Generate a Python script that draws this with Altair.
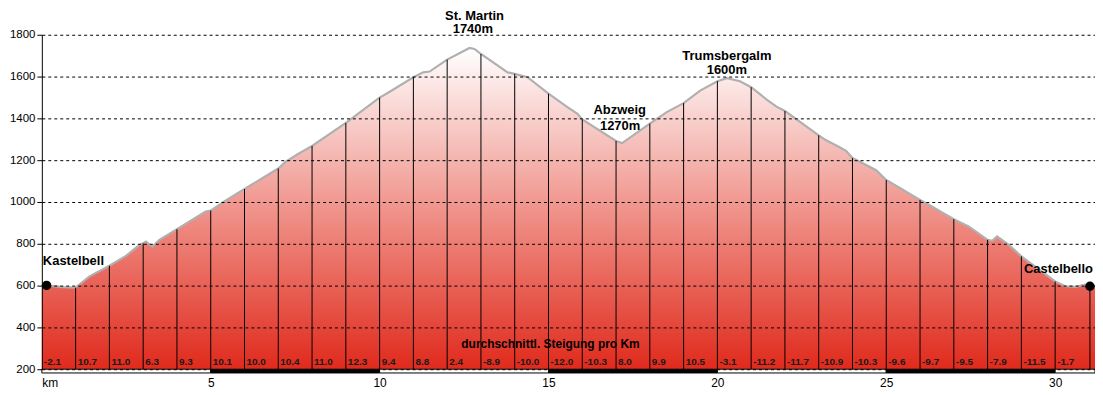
import altair as alt
import pandas as pd

# ---- data ----
profile_km = [0, 0.14, 0.63, 1, 1.41, 2, 2.5, 2.89, 3, 3.08, 3.28, 3.48, 4, 4.85, 5, 5.39, 6, 7, 7.21,
              7.61, 8, 9, 10, 10.2, 11, 11.29, 11.48, 12, 12.32, 12.66, 12.81, 13, 13.79, 14, 14.38, 15,
              15.56, 15.86, 16, 17, 17.18, 18, 18.5, 19, 19.49, 20, 20.28, 20.67, 21, 21.46, 21.75, 22,
              23, 23.22, 23.62, 23.81, 24, 24.7, 25, 26, 26.27, 27, 27.45, 28, 28.14, 28.28, 28.63, 29,
              30, 30.3, 30.6, 30.89, 31.03, 31.18]
profile_elev = [601, 601, 593, 590, 644, 695, 743, 795, 802, 811, 787, 819, 870, 954, 959, 1001, 1062, 1160,
                1192, 1232, 1268, 1378, 1499, 1518, 1597, 1620, 1624, 1681, 1708, 1737, 1732, 1708, 1620,
                1613, 1597, 1518, 1454, 1422, 1395, 1292, 1282, 1375, 1430, 1473, 1533, 1578, 1592, 1578,
                1549, 1490, 1456, 1435, 1319, 1295, 1262, 1245, 1210, 1152, 1105, 1010, 986, 918, 882, 819,
                814, 835, 795, 740, 620, 597, 594, 605, 597, 597]

line_km = [1, 2, 3, 4, 5, 6, 7, 8, 9, 10, 11, 12, 13, 14, 15, 16, 17, 18, 19, 20, 21, 22, 23, 24, 25,
           26, 27, 28, 29, 30, 31.03]
line_top = [590, 695, 802, 870, 959, 1062, 1160, 1268, 1378, 1499, 1597, 1681, 1708, 1613, 1518, 1395,
            1292, 1375, 1473, 1578, 1549, 1435, 1319, 1210, 1105, 1010, 918, 819, 740, 620, 597]

slope_start = list(range(0, 31))
slope_text = ["-2.1", "10.7", "11.0", "6.3", "9.3", "10.1", "10.0", "10.4", "11.0", "12.3",
              "9.4", "8.8", "2.4", "-8.9", "-10.0", "-12.0", "-10.3", "8.0", "9.9", "10.5",
              "-3.1", "-11.2", "-11.7", "-10.9", "-10.3", "-9.6", "-9.7", "-9.5", "-7.9", "-11.5", "-1.7"]

end_km = 31.18
bar_start = [0, 5, 10, 15, 20, 25, 30]
bar_end = [5, 10, 15, 20, 25, 30, end_km]
bar_fill = ["white", "black", "white", "black", "white", "black", "white"]

dot_km = [0.14, 31.03]
dot_elev = [601, 597]

peak_names = ["St. Martin", "1740m", "Abzweig", "1270m", "Trumsbergalm", "1600m"]
peak_km = [12.81, 12.76, 17.11, 17.12, 20.28, 20.28]
peak_y = [1890, 1827, 1438, 1362, 1700, 1632]

y_ticks = [200, 400, 600, 800, 1000, 1200, 1400, 1600, 1800]
x_ticks = [0, 5, 10, 15, 20, 25, 30]

FONT = "Liberation Sans"

profile = pd.DataFrame({"km": profile_km, "elev": profile_elev})
lines = pd.DataFrame({"km": line_km, "top": line_top})
slopes = pd.DataFrame({"km": [s + 0.06 for s in slope_start], "t": slope_text, "y": [233] * len(slope_text)})
bars = pd.DataFrame({"a": bar_start, "b": bar_end, "fill": bar_fill})
dots = pd.DataFrame({"km": dot_km, "elev": dot_elev})
peaks = pd.DataFrame({"km": peak_km, "y": peak_y, "t": peak_names})
ends = pd.DataFrame({"km": [0.03, 31.12], "y": [716, 680], "t": ["Kastelbell", "Castelbello"],
                     "al": ["left", "right"]})
sub = pd.DataFrame({"km": [15.06], "y": [319], "t": ["durchschnittl. Steigung pro Km"]})

xs = alt.Scale(domain=[0, end_km], nice=False, zero=False)
ys = alt.Scale(domain=[200, 1800], nice=False, zero=False)

x_axis = alt.Axis(values=x_ticks, labelExpr="datum.value == 0 ? 'km' : datum.label", labelFlush=True,
                  domain=False, ticks=False, grid=False, labelPadding=8, labelFontSize=12,
                  labelFont=FONT, labelColor="black", title=None)
y_axis = alt.Axis(values=y_ticks, format="d", grid=True, gridDash=[3, 3], gridColor="black", gridOpacity=1,
                  gridWidth=1, domainColor="black", domainWidth=1, tickColor="black", tickSize=5,
                  labelFontSize=11.5, labelFont=FONT, labelColor="black", labelPadding=2, title=None,
                  zindex=1)


def X(f):
    return alt.X(f, scale=xs, axis=x_axis, title=None)


def Y(f):
    return alt.Y(f, scale=ys, axis=y_axis, title=None)


grad = alt.Gradient(gradient="linear",
                    stops=[alt.GradientStop(offset=0, color="#e02a1c"),
                           alt.GradientStop(offset=0.5, color="#f0948c"),
                           alt.GradientStop(offset=1, color="#ffffff")],
                    x1=1, x2=1, y1=1, y2=0)

area = alt.Chart(profile).mark_area(color=grad).encode(x=X("km:Q"), y=Y("elev:Q"), y2=alt.datum(200))
outline = alt.Chart(profile).mark_line(color="#b0b0b0", strokeWidth=2.2).encode(x=X("km:Q"), y=Y("elev:Q"))
rules = alt.Chart(lines).mark_rule(color="black", strokeWidth=1).encode(x=X("km:Q"), y=Y("top:Q"),
                                                                         y2=alt.datum(200))
bar = alt.Chart(bars).mark_rect(stroke="black", strokeWidth=1).encode(
    x=X("a:Q"), x2="b:Q", y=alt.datum(200, scale=ys), y2=alt.datum(182),
    fill=alt.Fill("fill:N", scale=None))
dot = alt.Chart(dots).mark_circle(color="black", size=90, opacity=1).encode(x=X("km:Q"), y=Y("elev:Q"))
slope_t = alt.Chart(slopes).mark_text(align="left", baseline="middle", font=FONT, fontSize=10,
                                      fontWeight="bold", color="#1a1a1a").encode(
    x=X("km:Q"), y=Y("y:Q"), text="t:N")
peak_t = alt.Chart(peaks).mark_text(align="center", baseline="middle", font=FONT, fontSize=13,
                                    fontWeight="bold", color="black").encode(
    x=X("km:Q"), y=Y("y:Q"), text="t:N")
left_t = alt.Chart(ends[ends.al == "left"]).mark_text(align="left", baseline="middle", font=FONT,
                                                      fontSize=13, fontWeight="bold", color="black").encode(
    x=X("km:Q"), y=Y("y:Q"), text="t:N")
right_t = alt.Chart(ends[ends.al == "right"]).mark_text(align="right", baseline="middle", font=FONT,
                                                        fontSize=13, fontWeight="bold", color="black").encode(
    x=X("km:Q"), y=Y("y:Q"), text="t:N")
sub_t = alt.Chart(sub).mark_text(align="center", baseline="middle", font=FONT, fontSize=12,
                                 fontWeight="bold", color="black").encode(
    x=X("km:Q"), y=Y("y:Q"), text="t:N")

chart = alt.layer(area, outline, rules, bar, dot, slope_t, peak_t, left_t, right_t, sub_t).properties(
    width=1058, height=336,
    padding={"left": 34, "top": 26, "right": 0, "bottom": 22},
    autosize=alt.AutoSizeParams(type="none"),
    background="white",
).configure_view(strokeWidth=0)

chart.save("out.html", embed_options={"renderer": "svg", "actions": False})
